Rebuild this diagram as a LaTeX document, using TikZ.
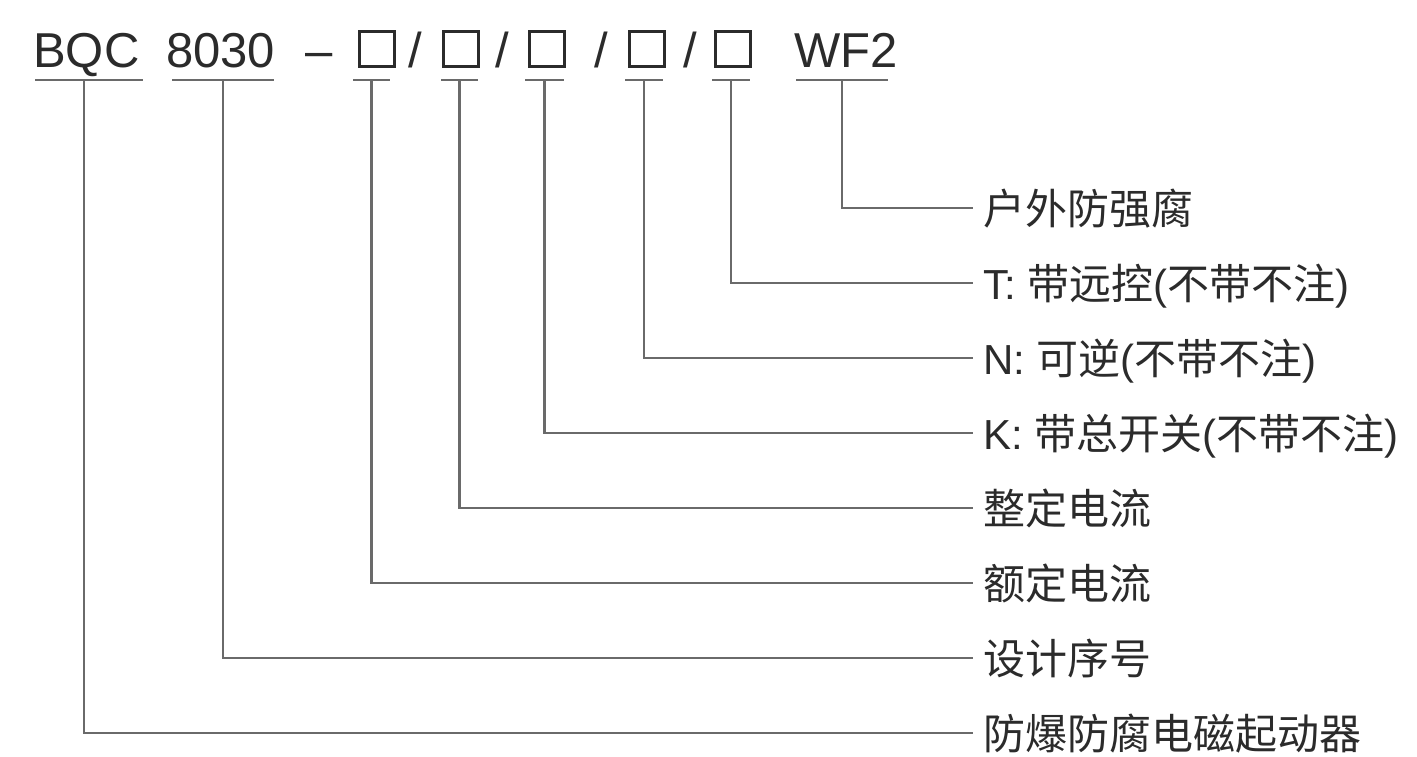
\documentclass[tikz,border=0pt]{standalone}
\usepackage{fontspec}
\setmainfont{Liberation Sans}
\newfontfamily\cjk{Noto Sans CJK SC}
\definecolor{txtc}{HTML}{2B2B2B}
\definecolor{linec}{HTML}{6A6A6A}
\begin{document}
\begin{tikzpicture}[x=1pt,y=-1pt,
  codetxt/.style={anchor=base west,inner sep=0pt,text=txtc,font=\fontsize{49}{56}\selectfont},
  codebox/.style={draw=txtc,line width=2.4pt,minimum width=35pt,minimum height=35pt,inner sep=0pt,anchor=north west},
  uline/.style={draw=linec,line width=2.8pt},
  conn/.style={draw=linec,line width=2.8pt},
  desc/.style={anchor=west,inner sep=0pt,text=txtc,text height=32pt,text depth=0pt,font=\fontsize{42}{48}\selectfont}]
\useasboundingbox (0,0) rectangle (1417,756);
% code row
\node[codetxt] (bqc) at (33,67) {BQC};
\node[codetxt] (num) at (166,67) {8030};
\node[codetxt] (dash) at (305,67) {–};
\node[codebox] (b1) at (358.2,30.2) {};
\node[codetxt] (s1) at (408,67) {/};
\node[codebox] (b2) at (442.2,30.2) {};
\node[codetxt] (s2) at (495,67) {/};
\node[codebox] (b3) at (528.2,30.2) {};
\node[codetxt] (s3) at (594,67) {/};
\node[codebox] (b4) at (628.2,30.2) {};
\node[codetxt] (s4) at (683,67) {/};
\node[codebox] (b5) at (714.2,30.2) {};
\node[codetxt] (wf) at (794,67) {WF2};
% underlines
\draw[uline] (35,80) -- (143,80);
\coordinate (ubqc) at (84,80);
\draw[uline] (172,80) -- (274,80) coordinate[midway] (unum);
\draw[uline] (353,80) -- (390,80) coordinate[midway] (ub1);
\draw[uline] (441,80) -- (478,80) coordinate[midway] (ub2);
\draw[uline] (525,80) -- (564,80) coordinate[midway] (ub3);
\draw[uline] (625,80) -- (663,80) coordinate[midway] (ub4);
\draw[uline] (712,80) -- (750,80) coordinate[midway] (ub5);
\draw[uline] (796,80) -- (888,80) coordinate[midway] (uwf);
% labels
\node[desc] (l1) at (983,208) {\cjk 户外防强腐};
\node[desc] (l2) at (983,283) {T: {\cjk 带远控}({\cjk 不带不注})};
\node[desc] (l3) at (983,358) {N: {\cjk 可逆}({\cjk 不带不注})};
\node[desc] (l4) at (983,433) {K: {\cjk 带总开关}({\cjk 不带不注})};
\node[desc] (l5) at (983,508) {\cjk 整定电流};
\node[desc] (l6) at (983,583) {\cjk 额定电流};
\node[desc] (l7) at (983,658) {\cjk 设计序号};
\node[desc] (l8) at (983,733) {\cjk 防爆防腐电磁起动器};
% connectors
\draw[conn] (uwf) |- ([xshift=-10pt]l1.west);
\draw[conn] (ub5) |- ([xshift=-10pt]l2.west);
\draw[conn] (ub4) |- ([xshift=-10pt]l3.west);
\draw[conn] (ub3) |- ([xshift=-10pt]l4.west);
\draw[conn] (ub2) |- ([xshift=-10pt]l5.west);
\draw[conn] (ub1) |- ([xshift=-10pt]l6.west);
\draw[conn] (unum) |- ([xshift=-10pt]l7.west);
\draw[conn] (ubqc) |- ([xshift=-10pt]l8.west);
\end{tikzpicture}
\end{document}
